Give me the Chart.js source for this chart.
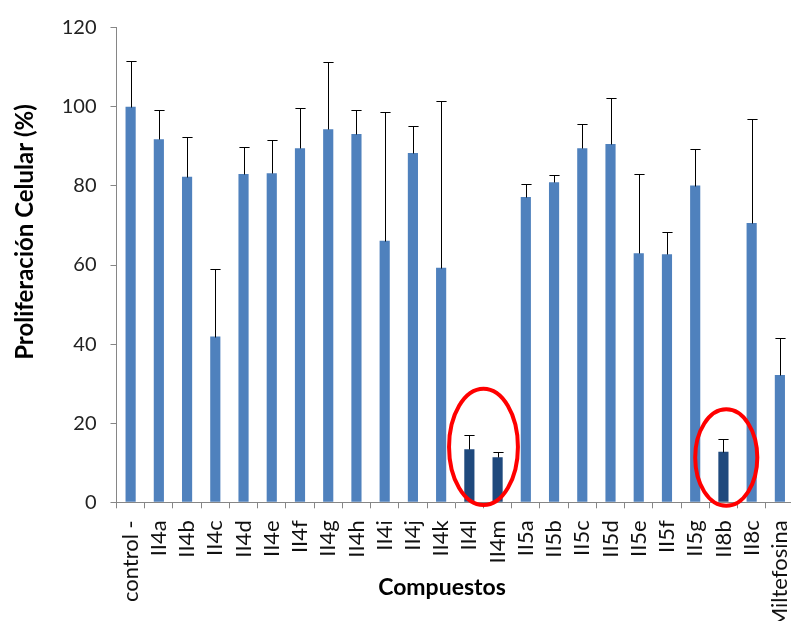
<!DOCTYPE html>
<html><head><meta charset="utf-8">
<script src="https://cdn.jsdelivr.net/npm/chart.js@4"></script>
<style>
html,body{margin:0;padding:0;overflow:hidden;background:#fff;}
#wrap{position:absolute;left:0;top:0;width:794px;height:650px;}
</style>
</head><body>
<div id="wrap"><canvas id="c" width="794" height="650"></canvas></div>
<script>
const categories = ['control -','II4a','II4b','II4c','II4d','II4e','II4f','II4g','II4h','II4i','II4j','II4k','II4l','II4m','II5a','II5b','II5c','II5d','II5e','II5f','II5g','II8b','II8c','Miltefosina'];
const proliferation = [100.0, 91.8, 82.3, 41.9, 83.0, 83.2, 89.5, 94.3, 93.1, 66.1, 88.3, 59.3, 13.4, 11.4, 77.2, 80.9, 89.5, 90.6, 63.0, 62.7, 80.1, 12.8, 70.6, 32.2];
const stdDev = [11.6, 7.3, 10.0, 17.0, 6.9, 8.4, 10.1, 17.0, 6.0, 32.7, 6.8, 42.1, 3.6, 1.3, 3.4, 1.9, 6.2, 11.6, 20.1, 5.6, 9.2, 3.3, 26.2, 9.3];
const highlighted = ['II4l','II4m','II8b'];
const circledGroups = [['II4l','II4m'],['II8b']];
const yMin = 0, yMax = 120, yStep = 20;
const yTitle = 'Proliferación Celular (%)';
const xTitle = 'Compuestos';

const FONT = 'Lato, "Open Sans", sans-serif';
const BLUE = '#4F81BD', DARK = '#1F497D';

const errorBars = {
  id: 'errorBars',
  afterDatasetsDraw(chart) {
    const ctx = chart.ctx, meta = chart.getDatasetMeta(0), y = chart.scales.y;
    ctx.save();
    ctx.strokeStyle = '#000'; ctx.lineWidth = 1;
    meta.data.forEach((bar, i) => {
      const x = Math.round(bar.x) + 0.5;
      const yTop = Math.round(y.getPixelForValue(proliferation[i] + stdDev[i])) + 0.5;
      const yBase = Math.round(bar.y) + 0.5;
      const half = bar.width / 2;
      ctx.beginPath();
      ctx.moveTo(x, yBase); ctx.lineTo(x, yTop);
      ctx.moveTo(x - half, yTop); ctx.lineTo(x + half, yTop);
      ctx.stroke();
    });
    ctx.restore();
  }
};

const ellipseStyle = [
  {offset: 0.0, cy: 14.0, rxCat: 1.22, ry: 14.7},
  {offset: 0.1, cy: 11.3, rxCat: 1.10, ry: 12.2}
];
const circles = {
  id: 'circles',
  afterDraw(chart) {
    const ctx = chart.ctx, xs = chart.scales.x, ys = chart.scales.y;
    const catW = (xs.right - xs.left) / categories.length;
    ctx.save();
    ctx.strokeStyle = '#FF0000'; ctx.lineWidth = 4;
    circledGroups.forEach((g, k) => {
      const idx = g.map(n => categories.indexOf(n));
      const mid = idx.reduce((a, b) => a + b, 0) / idx.length + ellipseStyle[k].offset;
      const cx = xs.getPixelForValue(mid);
      const cy = ys.getPixelForValue(ellipseStyle[k].cy);
      const ry = ys.getPixelForValue(0) - ys.getPixelForValue(ellipseStyle[k].ry);
      ctx.beginPath();
      ctx.ellipse(cx, cy, ellipseStyle[k].rxCat * catW, ry, 0, 0, Math.PI * 2);
      ctx.stroke();
    });
    ctx.restore();
  }
};

const titles = {
  id: 'titles',
  afterDraw(chart) {
    const ctx = chart.ctx;
    ctx.save();
    ctx.fillStyle = '#000';
    ctx.textAlign = 'center'; ctx.textBaseline = 'middle';
    ctx.font = 'bold 23px ' + FONT;
    ctx.fillText(xTitle, 442, 588);
    ctx.font = 'bold 24px ' + FONT;
    ctx.translate(25, 232);
    ctx.rotate(-Math.PI / 2);
    ctx.fillText(yTitle, 0, 0);
    ctx.restore();
  }
};

new Chart(document.getElementById('c'), {
  type: 'bar',
  data: {
    labels: categories,
    datasets: [{
      data: proliferation,
      backgroundColor: categories.map(c => highlighted.includes(c) ? DARK : BLUE),
      borderWidth: 0,
      barPercentage: 0.36,
      categoryPercentage: 1.0
    }]
  },
  options: {
    responsive: false,
    animation: false,
    layout: {padding: {top: 27.7, left: 0, right: 0, bottom: 0}},
    plugins: {legend: {display: false}, tooltip: {enabled: false}},
    scales: {
      x: {
        grid: {display: true, drawOnChartArea: false, drawTicks: true, tickLength: 6, offset: true, color: '#868686', tickColor: '#868686'},
        border: {color: '#868686', width: 1},
        ticks: {minRotation: 90, maxRotation: 90, autoSkip: false, padding: 12, color: '#111', font: {family: FONT, size: 22}},
        afterFit: s => { s.height = 650 - 502.3; s.paddingLeft = 0; s.paddingRight = 0; }
      },
      y: {
        min: yMin, max: yMax,
        grid: {display: true, drawOnChartArea: false, drawTicks: true, tickLength: 6, color: '#868686', tickColor: '#868686'},
        border: {color: '#868686', width: 1},
        ticks: {stepSize: yStep, padding: 14, color: '#222', font: {family: FONT, size: 20}},
        afterFit: s => { s.width = 116.5; s.paddingTop = 0; s.paddingBottom = 0; }
      }
    }
  },
  plugins: [errorBars, circles, titles]
});
</script>
</body></html>
